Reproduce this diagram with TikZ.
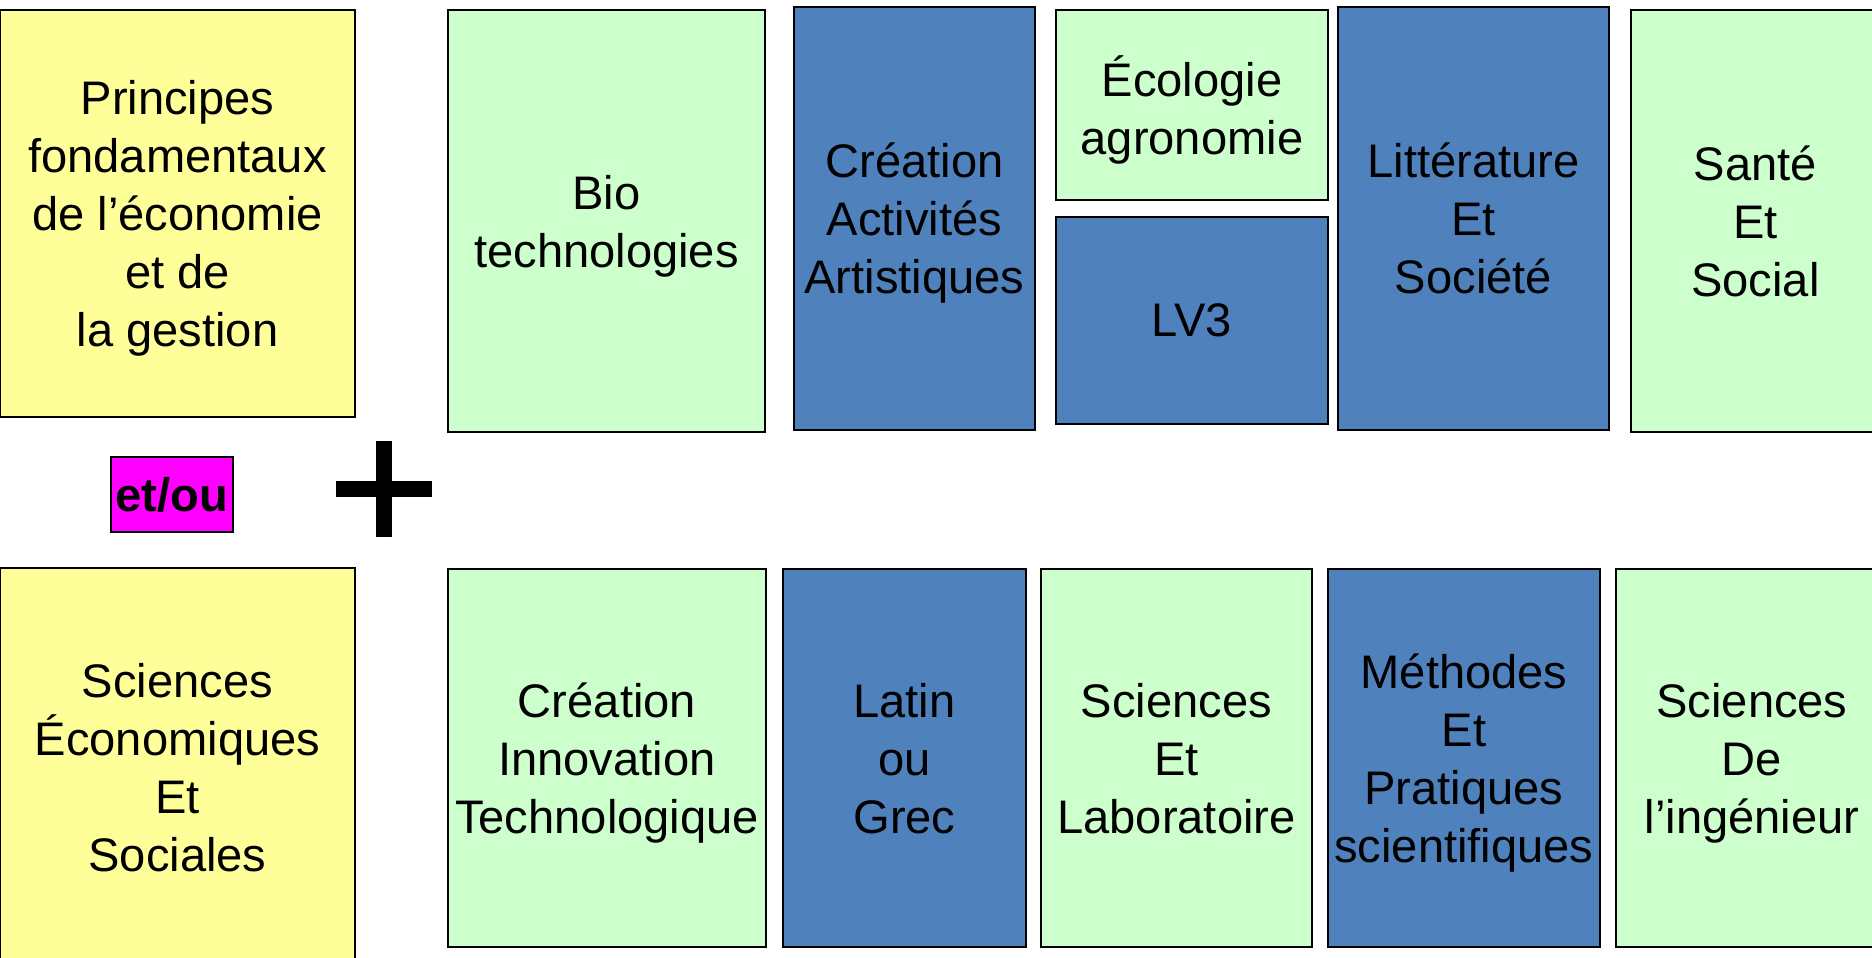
\documentclass[tikz,border=0pt]{standalone}
\usepackage{fontspec}
\setmainfont{Liberation Sans}
\usepackage{tikz}

\definecolor{boxyellow}{HTML}{FFFF99}
\definecolor{boxgreen}{HTML}{CCFFCC}
\definecolor{boxblue}{HTML}{4F81BD}
\definecolor{boxpink}{HTML}{FF00FF}

\begin{document}
\begin{tikzpicture}[
    box/.style={rectangle,draw=black,line width=0.6pt,inner sep=0pt,align=center,text depth=0pt,
                font=\fontsize{13.4}{16.5}\selectfont},
    plusbar/.style={line width=0.16cm}
]
    \useasboundingbox (0,0) rectangle (18.72,9.57);

    \begin{scope}[every node/.style={box,fill=boxyellow,minimum width=3.55cm}]
        \node[minimum height=4.07cm] (pfeg) at (1.775,7.435) {Principes\\fondamentaux\\de l’économie\\et de\\ la gestion}; % Top %
        \node[minimum height=3.98cm] (ses) at (1.775,1.90) {Sciences\\Économiques\\Et\\Sociales}; % Bottom %
    \end{scope}

    \begin{scope}[every node/.style={box,fill=boxgreen}]
        \node[minimum width=3.17cm,minimum height=4.22cm] (bio) at (6.065,7.36) {Bio\\technologies};
        \node[minimum width=2.72cm,minimum height=1.90cm] (eco) at (11.92,8.52) {Écologie\\agronomie};
        \node[minimum width=2.49cm,minimum height=4.22cm] (sante) at (17.555,7.36) {Santé\\Et\\Social};
        \node[minimum width=3.18cm,minimum height=3.78cm] (cit) at (6.07,1.99) {Création\\Innovation\\Technologique};
        \node[minimum width=2.71cm,minimum height=3.78cm] (sl) at (11.765,1.99) {Sciences\\Et\\Laboratoire};
        \node[minimum width=2.72cm,minimum height=3.78cm] (si) at (17.52,1.99) {Sciences\\De\\l’ingénieur};
    \end{scope}

    \begin{scope}[every node/.style={box,fill=boxblue}]
        \node[minimum width=2.41cm,minimum height=4.23cm] (caa) at (9.145,7.385) {Création\\Activités\\Artistiques};
        \node[minimum width=2.72cm,minimum height=2.07cm] (lv3) at (11.92,6.365) {LV3};
        \node[minimum width=2.71cm,minimum height=4.23cm] (lit) at (14.735,7.385) {Littérature\\Et\\Société};
        \node[minimum width=2.43cm,minimum height=3.78cm] (latin) at (9.045,1.99) {Latin\\ou\\Grec};
        \node[minimum width=2.72cm,minimum height=3.78cm] (mps) at (14.64,1.99) {Méthodes\\Et\\Pratiques\\scientifiques};
    \end{scope}

    % et/ou and plus sign %
    \node[box,fill=boxpink,minimum width=1.22cm,minimum height=0.75cm,font=\fontsize{13.4}{16.5}\selectfont\bfseries] (etou) at (1.72,4.625) {et/ou};
    \coordinate (plus) at (3.84,4.68);
    \draw[plusbar] ([xshift=-0.48cm]plus) -- ([xshift=0.48cm]plus);
    \draw[plusbar] ([yshift=-0.48cm]plus) -- ([yshift=0.48cm]plus);

\end{tikzpicture}
\end{document}
